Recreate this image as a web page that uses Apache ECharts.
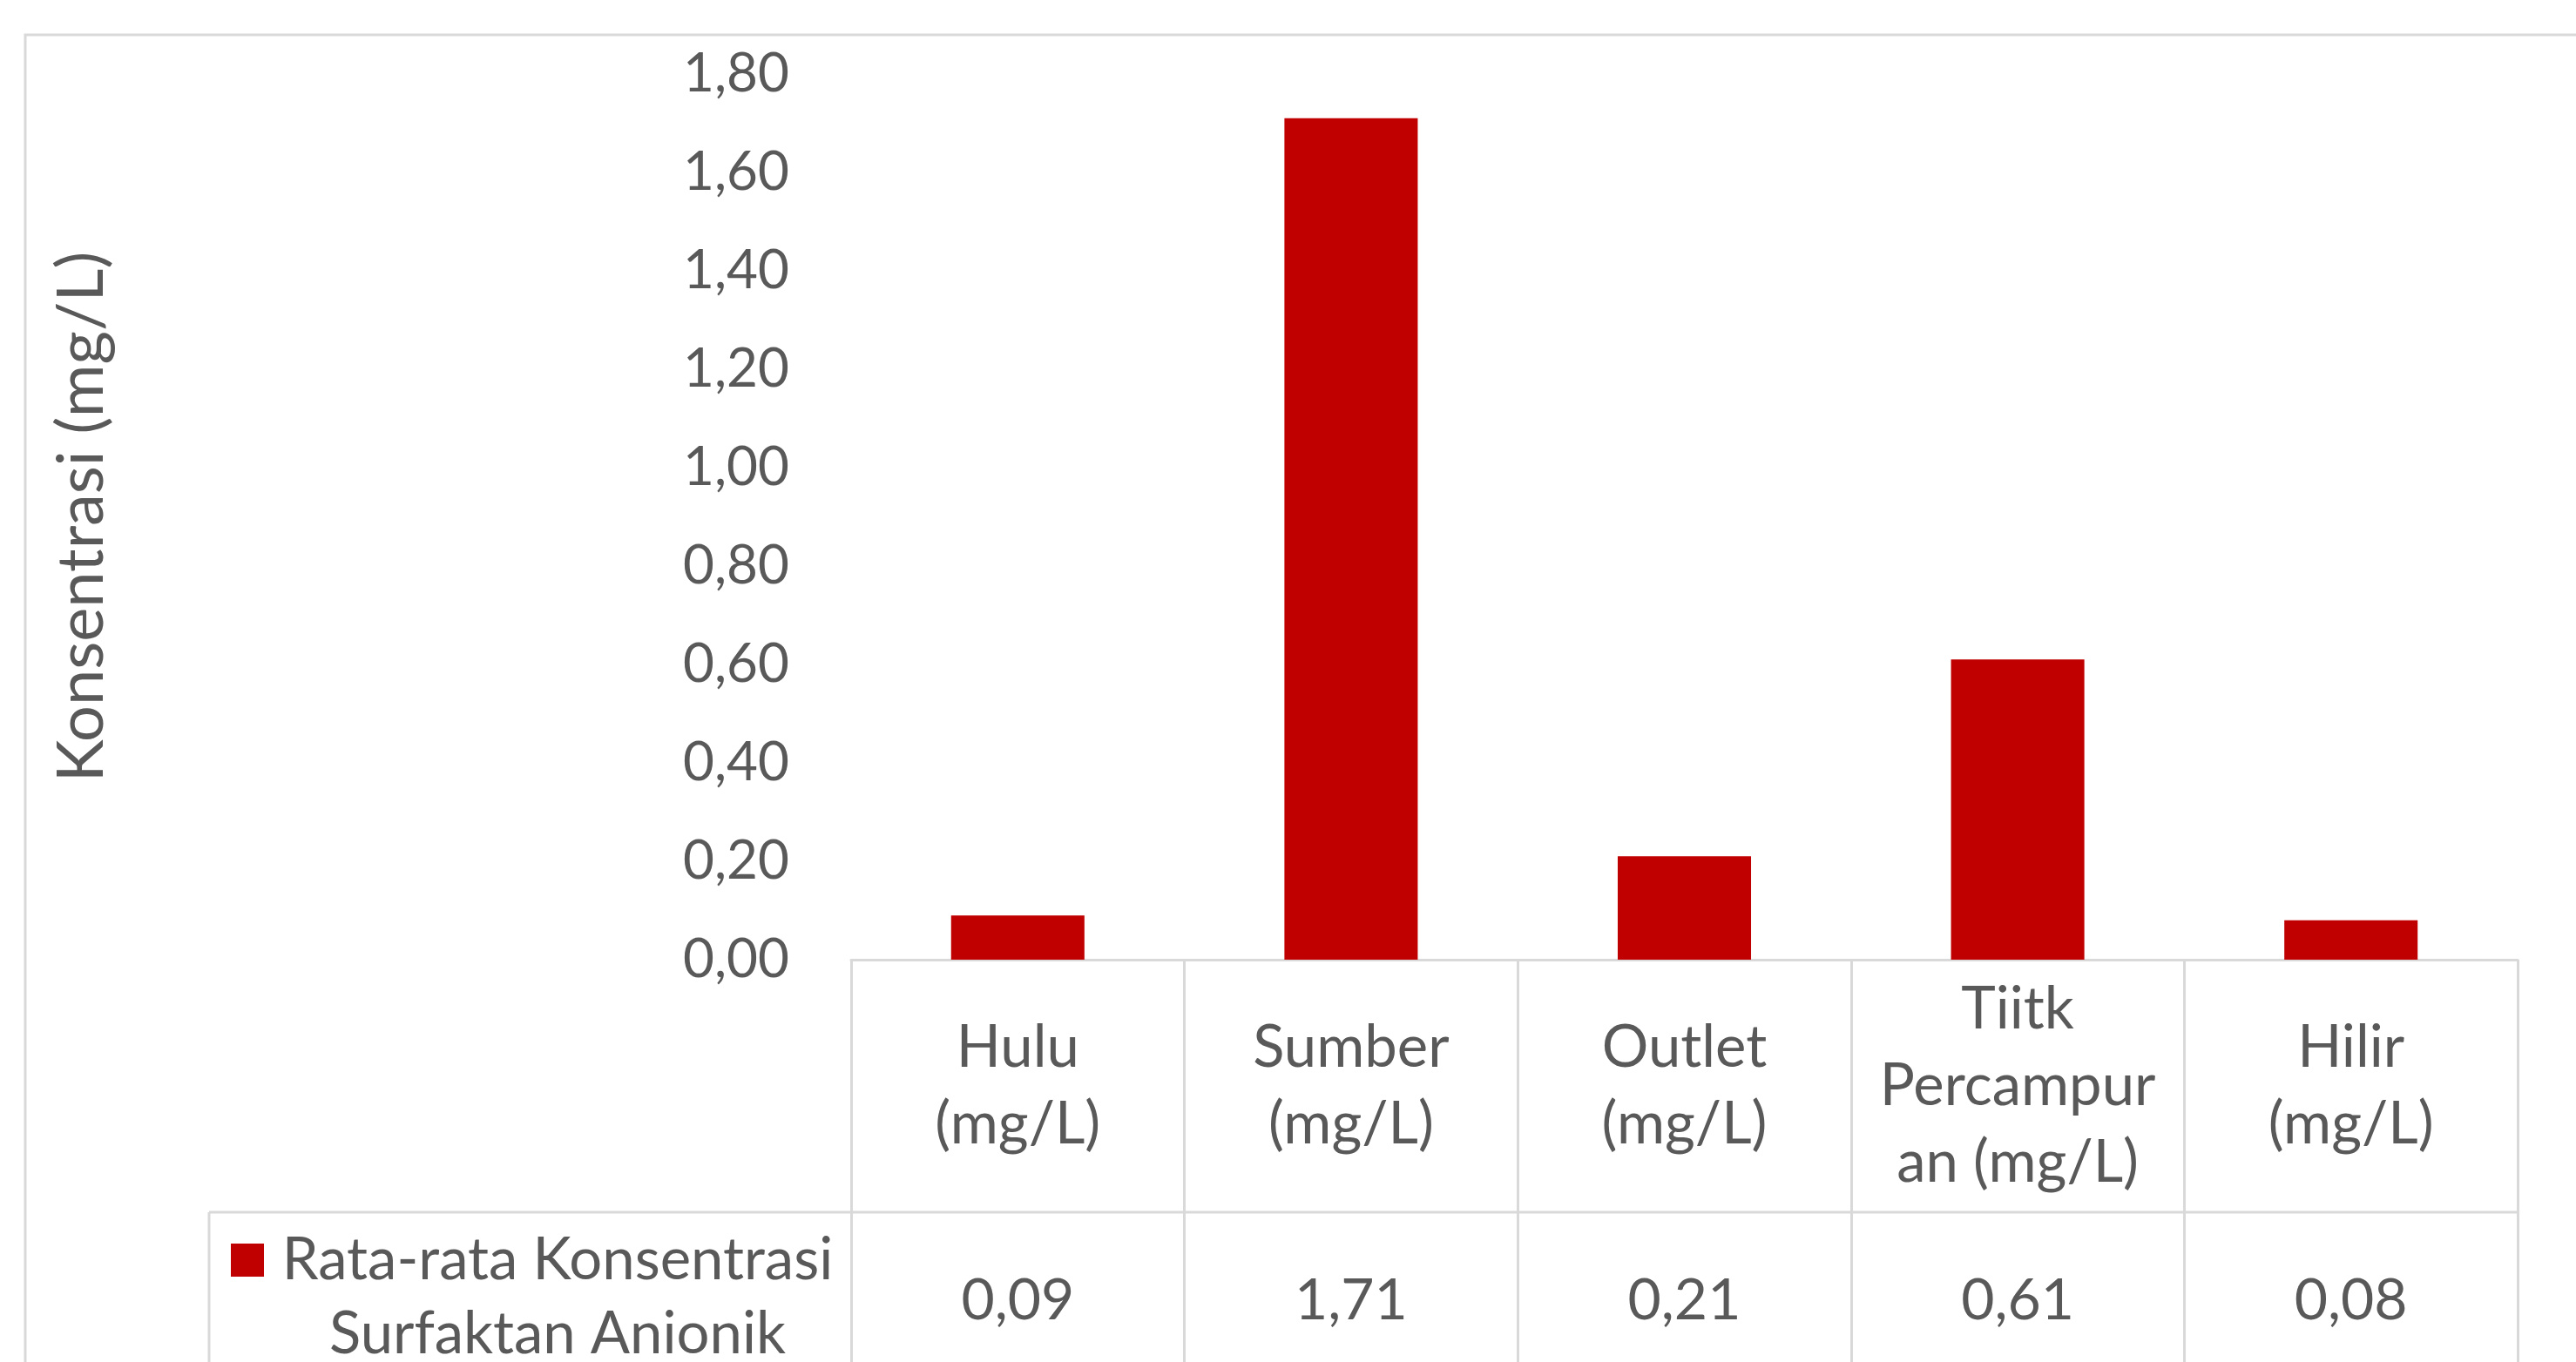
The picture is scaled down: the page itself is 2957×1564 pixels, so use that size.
<!DOCTYPE html>
<html>
<head>
<meta charset="utf-8">
<script src="https://cdn.jsdelivr.net/npm/echarts@6/dist/echarts.min.js"></script>
<style>
  html, body { margin: 0; padding: 0; background: #fff; }
  #chart { width: 2957px; height: 1564px; }
</style>
</head>
<body>
<div id="chart"></div>
<script>
// data
var categories = ['Hulu\n(mg/L)', 'Sumber\n(mg/L)', 'Outlet\n(mg/L)', 'Tiitk\nPercampur\nan (mg/L)', 'Hilir\n(mg/L)']
var values = [0.09, 1.71, 0.21, 0.61, 0.08]
var seriesName = 'Rata-rata Konsentrasi\nSurfaktan Anionik'
var yTitle = 'Konsentrasi (mg/L)'

var fmt = function (v) { return v.toFixed(2).replace('.', ',') }
var valueLabels = values.map(fmt)

var textColor = '#595959'
var lineColor = '#d9d9d9'
var font = 'Lato'
var barColor = '#c00000'

var myChart = echarts.init(document.getElementById('chart'))
var option = {
  animation: false,
  backgroundColor: '#fff',
  grid: {
    left: 977,
    right: 67,
    top: 85,
    bottom: 462,
    containLabel: false
  },
  xAxis: [{
    type: 'category',
    data: categories,
    axisLine: { show: true, lineStyle: { color: lineColor, width: 3 } },
    axisTick: {
      show: true,
      interval: 0,
      length: 480,
      lineStyle: { color: lineColor, width: 3 }
    },
    axisLabel: {
      interval: 0,
      margin: 145,
      verticalAlign: 'middle',
      color: textColor,
      fontFamily: font,
      fontSize: 67,
      lineHeight: 88
    }
  }, {
    // values row of the data table
    type: 'category',
    position: 'bottom',
    data: valueLabels,
    axisLine: { show: false },
    axisTick: { show: false },
    axisLabel: {
      interval: 0,
      margin: 392,
      verticalAlign: 'middle',
      color: textColor,
      fontFamily: font,
      fontSize: 66
    }
  }],
  yAxis: {
    type: 'value',
    min: 0,
    max: 1.8,
    interval: 0.2,
    name: yTitle,
    nameLocation: 'middle',
    nameGap: 846,
    nameRotate: 90,
    nameTextStyle: { color: textColor, fontFamily: font, fontSize: 74 },
    axisLine: { show: false },
    axisTick: { show: false },
    splitLine: { show: false },
    axisLabel: {
      margin: 71,
      color: textColor,
      fontFamily: font,
      fontSize: 62,
      formatter: fmt
    }
  },
  series: [{
    name: seriesName,
    type: 'bar',
    xAxisIndex: 0,
    barWidth: '40%',
    itemStyle: { color: barColor },
    data: values
  }],
  graphic: [
    // chart frame
    { type: 'rect', shape: { x: 29, y: 40, width: 3100, height: 1700 },
      style: { fill: 'none', stroke: lineColor, lineWidth: 3 }, silent: true },
    // data table lines
    { type: 'line', shape: { x1: 240, y1: 1392, x2: 2890, y2: 1392 },
      style: { stroke: lineColor, lineWidth: 3 }, silent: true },
    { type: 'line', shape: { x1: 240, y1: 1392, x2: 240, y2: 1600 },
      style: { stroke: lineColor, lineWidth: 3 }, silent: true },
    // legend key
    { type: 'rect', shape: { x: 265, y: 1428, width: 38, height: 38 },
      style: { fill: barColor }, silent: true },
    { type: 'text', x: 640, y: 1490,
      style: {
        text: seriesName,
        fill: textColor,
        font: '67px Lato',
        lineHeight: 85,
        align: 'center',
        verticalAlign: 'middle'
      }, silent: true }
  ]
}
myChart.setOption(option)
window.addEventListener('resize', function () {
  myChart.resize()
})
</script>
</body>
</html>
